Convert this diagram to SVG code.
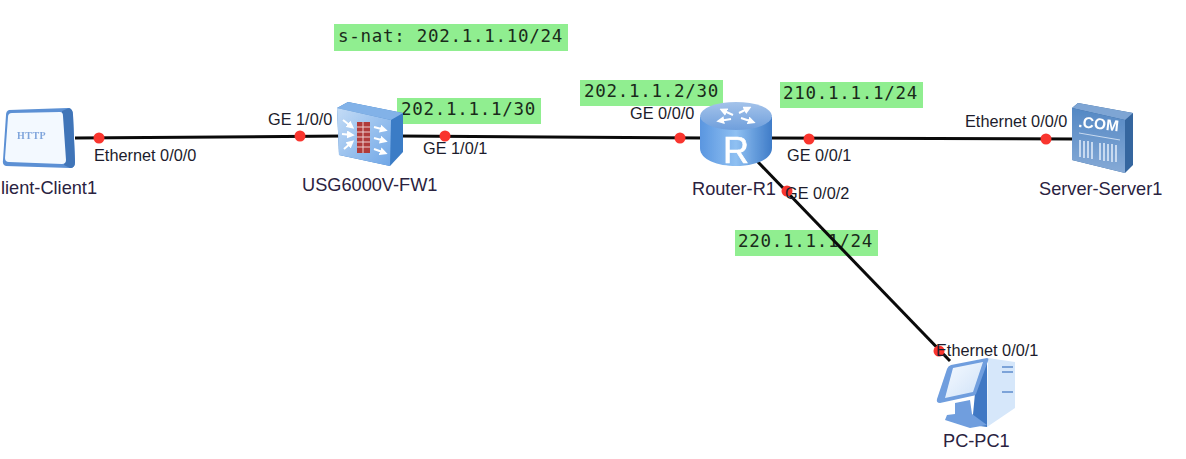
<svg xmlns="http://www.w3.org/2000/svg" width="1186" height="459" viewBox="0 0 1186 459">
<defs>
<linearGradient id="rt" x1="0" y1="0" x2="0" y2="1"><stop offset="0" stop-color="#a4c3ea"/><stop offset="1" stop-color="#6f9fdc"/></linearGradient>
<linearGradient id="rb" x1="0" y1="0" x2="1" y2="0"><stop offset="0" stop-color="#5a96e0"/><stop offset="0.5" stop-color="#8fc0f2"/><stop offset="1" stop-color="#3f7cc8"/></linearGradient>
<linearGradient id="fw" x1="0" y1="0" x2="1" y2="1"><stop offset="0" stop-color="#c4dcf6"/><stop offset="1" stop-color="#6fa6e6"/></linearGradient>
<linearGradient id="sv" x1="0" y1="0" x2="0" y2="1"><stop offset="0" stop-color="#5488c4"/><stop offset="1" stop-color="#86aad6"/></linearGradient>
<linearGradient id="scr" x1="0" y1="0" x2="1" y2="1"><stop offset="0" stop-color="#f6faff"/><stop offset="1" stop-color="#cfe2f8"/></linearGradient>
<marker id="ah" markerWidth="4" markerHeight="4" refX="2.6" refY="2" orient="auto"><path d="M0 0 L4 2 L0 4Z" fill="#ffffff"/></marker>
<filter id="soft" x="-5%" y="-5%" width="110%" height="110%"><feGaussianBlur stdDeviation="0.5"/></filter>
</defs>
<style>
.lb{font-family:"Liberation Sans",Arial,sans-serif;font-size:16.3px;fill:#1c1c2c}
.nm{font-family:"Liberation Sans",Arial,sans-serif;font-size:18.2px;fill:#2a2240}
.ip{font-family:"DejaVu Sans Mono","Liberation Mono",monospace;font-size:17.5px;letter-spacing:0.72px;fill:#1a2a1a}
.bg{fill:#90ee90}
.ln{stroke:#0a0a0a;fill:none;stroke-width:3}
.dot{fill:#f9352e}
.ar{stroke:#ffffff;stroke-width:2;fill:none;marker-end:url(#ah)}
</style>
<rect width="1186" height="459" fill="#ffffff"/>
<g id="addresses">
<rect class="bg" x="334" y="24" width="234" height="27"/>
<text class="ip" x="338" y="42">s-nat: 202.1.1.10/24</text>
<rect class="bg" x="397" y="98" width="144" height="26"/>
<text class="ip" x="401" y="115">202.1.1.1/30</text>
<rect class="bg" x="580" y="80" width="143" height="26"/>
<text class="ip" x="584" y="97">202.1.1.2/30</text>
<rect class="bg" x="780" y="82" width="143" height="26"/>
<text class="ip" x="783" y="99">210.1.1.1/24</text>
<rect class="bg" x="735" y="230" width="143" height="26"/>
<text class="ip" x="738" y="247">220.1.1.1/24</text>
</g>
<g id="connectors">
<path class="ln" d="M75 138 L345 136"/>
<path class="ln" d="M398 136 L705 138"/>
<path class="ln" d="M770 138 L1075 139"/>
<path class="ln" d="M757 161 L950 361"/>
</g>
<g id="dots">
<circle class="dot" cx="99" cy="138" r="5.5"/>
<circle class="dot" cx="300" cy="136" r="5.5"/>
<circle class="dot" cx="445" cy="136" r="5.5"/>
<circle class="dot" cx="680" cy="138" r="5.5"/>
<circle class="dot" cx="809" cy="139" r="5.5"/>
<circle class="dot" cx="787" cy="191" r="5.5"/>
<circle class="dot" cx="939" cy="351" r="5.5"/>
<circle class="dot" cx="1046" cy="139" r="5.5"/>
</g>
<g id="client" filter="url(#soft)">
<path d="M9 110 L68 108 Q73 109 73 115 L75 162 Q75 168 70 168 L6 166 Q2 165 3 160 L6 115 Q6 111 9 110Z" fill="#5b90d4"/>
<path d="M62 111 L69 108 Q73 109 73 115 L75 162 Q75 168 70 168 L64 165Z" fill="#3f74b8"/>
<path d="M12 113 L60 112 Q63 112 63 116 L66 160 Q66 164 62 164 L9 162 Q5 162 5 158 L8 117 Q8 113 12 113Z" fill="#f3f9ff"/>
<text x="17" y="139" font-family="Liberation Serif,serif" font-size="10" font-weight="bold" fill="#7fa5dc" letter-spacing="0.5">HTTP</text>
</g>
<g id="fw1" filter="url(#soft)">
<path d="M337 108 L348 102 L403 113 L403 152 L390 166 L339 155Z" fill="#3a7cc6"/>
<path d="M337 108 L348 102 L403 113 L391 120Z" fill="#82b2e8"/>
<path d="M337 108 L391 120 L390 166 L339 155Z" fill="url(#fw)"/>
<rect x="357" y="122" width="13" height="31" fill="#b03a3a"/>
<path d="M357 127 H370 M357 132 H370 M357 137 H370 M357 142 H370 M357 147 H370 M363 122 V153" stroke="#eecfcf" stroke-width="1"/>
<path class="ar" d="M343 120 L352 127"/>
<path class="ar" d="M342 134 L352 135"/>
<path class="ar" d="M344 149 L352 142"/>
<path class="ar" d="M374 127 L385 130"/>
<path class="ar" d="M374 138 L385 141"/>
<path class="ar" d="M374 149 L385 153"/>
</g>
<g id="router" filter="url(#soft)">
<path d="M700 117 V148 C700 172 772 172 772 148 V117Z" fill="url(#rb)"/>
<ellipse cx="736" cy="116" rx="36" ry="14" fill="url(#rt)"/>
<path class="ar" d="M733 115 L722 110"/>
<path class="ar" d="M731 119 L719 121"/>
<path class="ar" d="M739 113 L749 108"/>
<path class="ar" d="M741 118 L753 122"/>
<text x="723" y="163" font-family="Liberation Sans,sans-serif" font-size="36" fill="#ffffff" stroke="#ffffff" stroke-width="0.6">R</text>
</g>
<g id="server" filter="url(#soft)">
<path d="M1072 108 L1078 103 L1133 113 L1133 165 L1125 173 L1072 160Z" fill="#35669f"/>
<path d="M1072 108 L1078 103 L1133 113 L1125 120Z" fill="#7ea5d4"/>
<path d="M1072 108 L1125 120 L1125 173 L1072 160Z" fill="url(#sv)"/>
<text x="1078" y="127" font-family="Liberation Sans,sans-serif" font-size="15.5" font-weight="bold" fill="#ffffff" transform="rotate(6 1078 127)">.COM</text>
<path d="M1079 133 L1120 140" stroke="#c8daf0" stroke-width="1"/>
<path d="M1080 140 V157 M1084 141 V158 M1088 141 V158 M1092 142 V159 M1100 143 V160 M1104 143 V161 M1108 144 V161 M1112 144 V162 M1116 145 V162" stroke="#c8daf0" stroke-width="2"/>
</g>
<g id="pc" filter="url(#soft)">
<path d="M988 358 L1015 362 L1015 408 L987 427Z" fill="#d6e7fa"/>
<path d="M987 360 L975 393 L972 425 L987 427Z" fill="#3f78c4"/>
<path d="M951 365 L987 358 Q989 358 988 361 L976 394 Q975 396 972 396 L940 403 Q936 403 937 399 L947 369 Q948 366 951 365Z" fill="#6f9ede"/>
<path d="M953 368 L983 362 L973 392 L945 398Z" fill="url(#scr)"/>
<path d="M955 403 L970 400 L972 414 L987 425 L970 428 L945 420 L947 415 L955 414Z" fill="#6f9ede"/>
<path d="M1002 367 H1013 M1002 372 H1013 M1002 392 H1013" stroke="#7ba3d8" stroke-width="2"/>
</g>
<g id="labels">
<text class="lb" x="94" y="161">Ethernet 0/0/0</text>
<text class="lb" x="268" y="125">GE 1/0/0</text>
<text class="lb" x="423" y="154">GE 1/0/1</text>
<text class="lb" x="630" y="119">GE 0/0/0</text>
<text class="lb" x="787" y="161">GE 0/0/1</text>
<text class="lb" x="785" y="199">GE 0/0/2</text>
<text class="lb" x="965" y="127">Ethernet 0/0/0</text>
<text class="lb" x="936" y="356">Ethernet 0/0/1</text>
<text class="nm" x="1" y="194">lient-Client1</text>
<text class="nm" x="302" y="191">USG6000V-FW1</text>
<text class="nm" x="692" y="195">Router-R1</text>
<text class="nm" x="1039" y="195">Server-Server1</text>
<text class="nm" x="943" y="447">PC-PC1</text>
</g>
</svg>
